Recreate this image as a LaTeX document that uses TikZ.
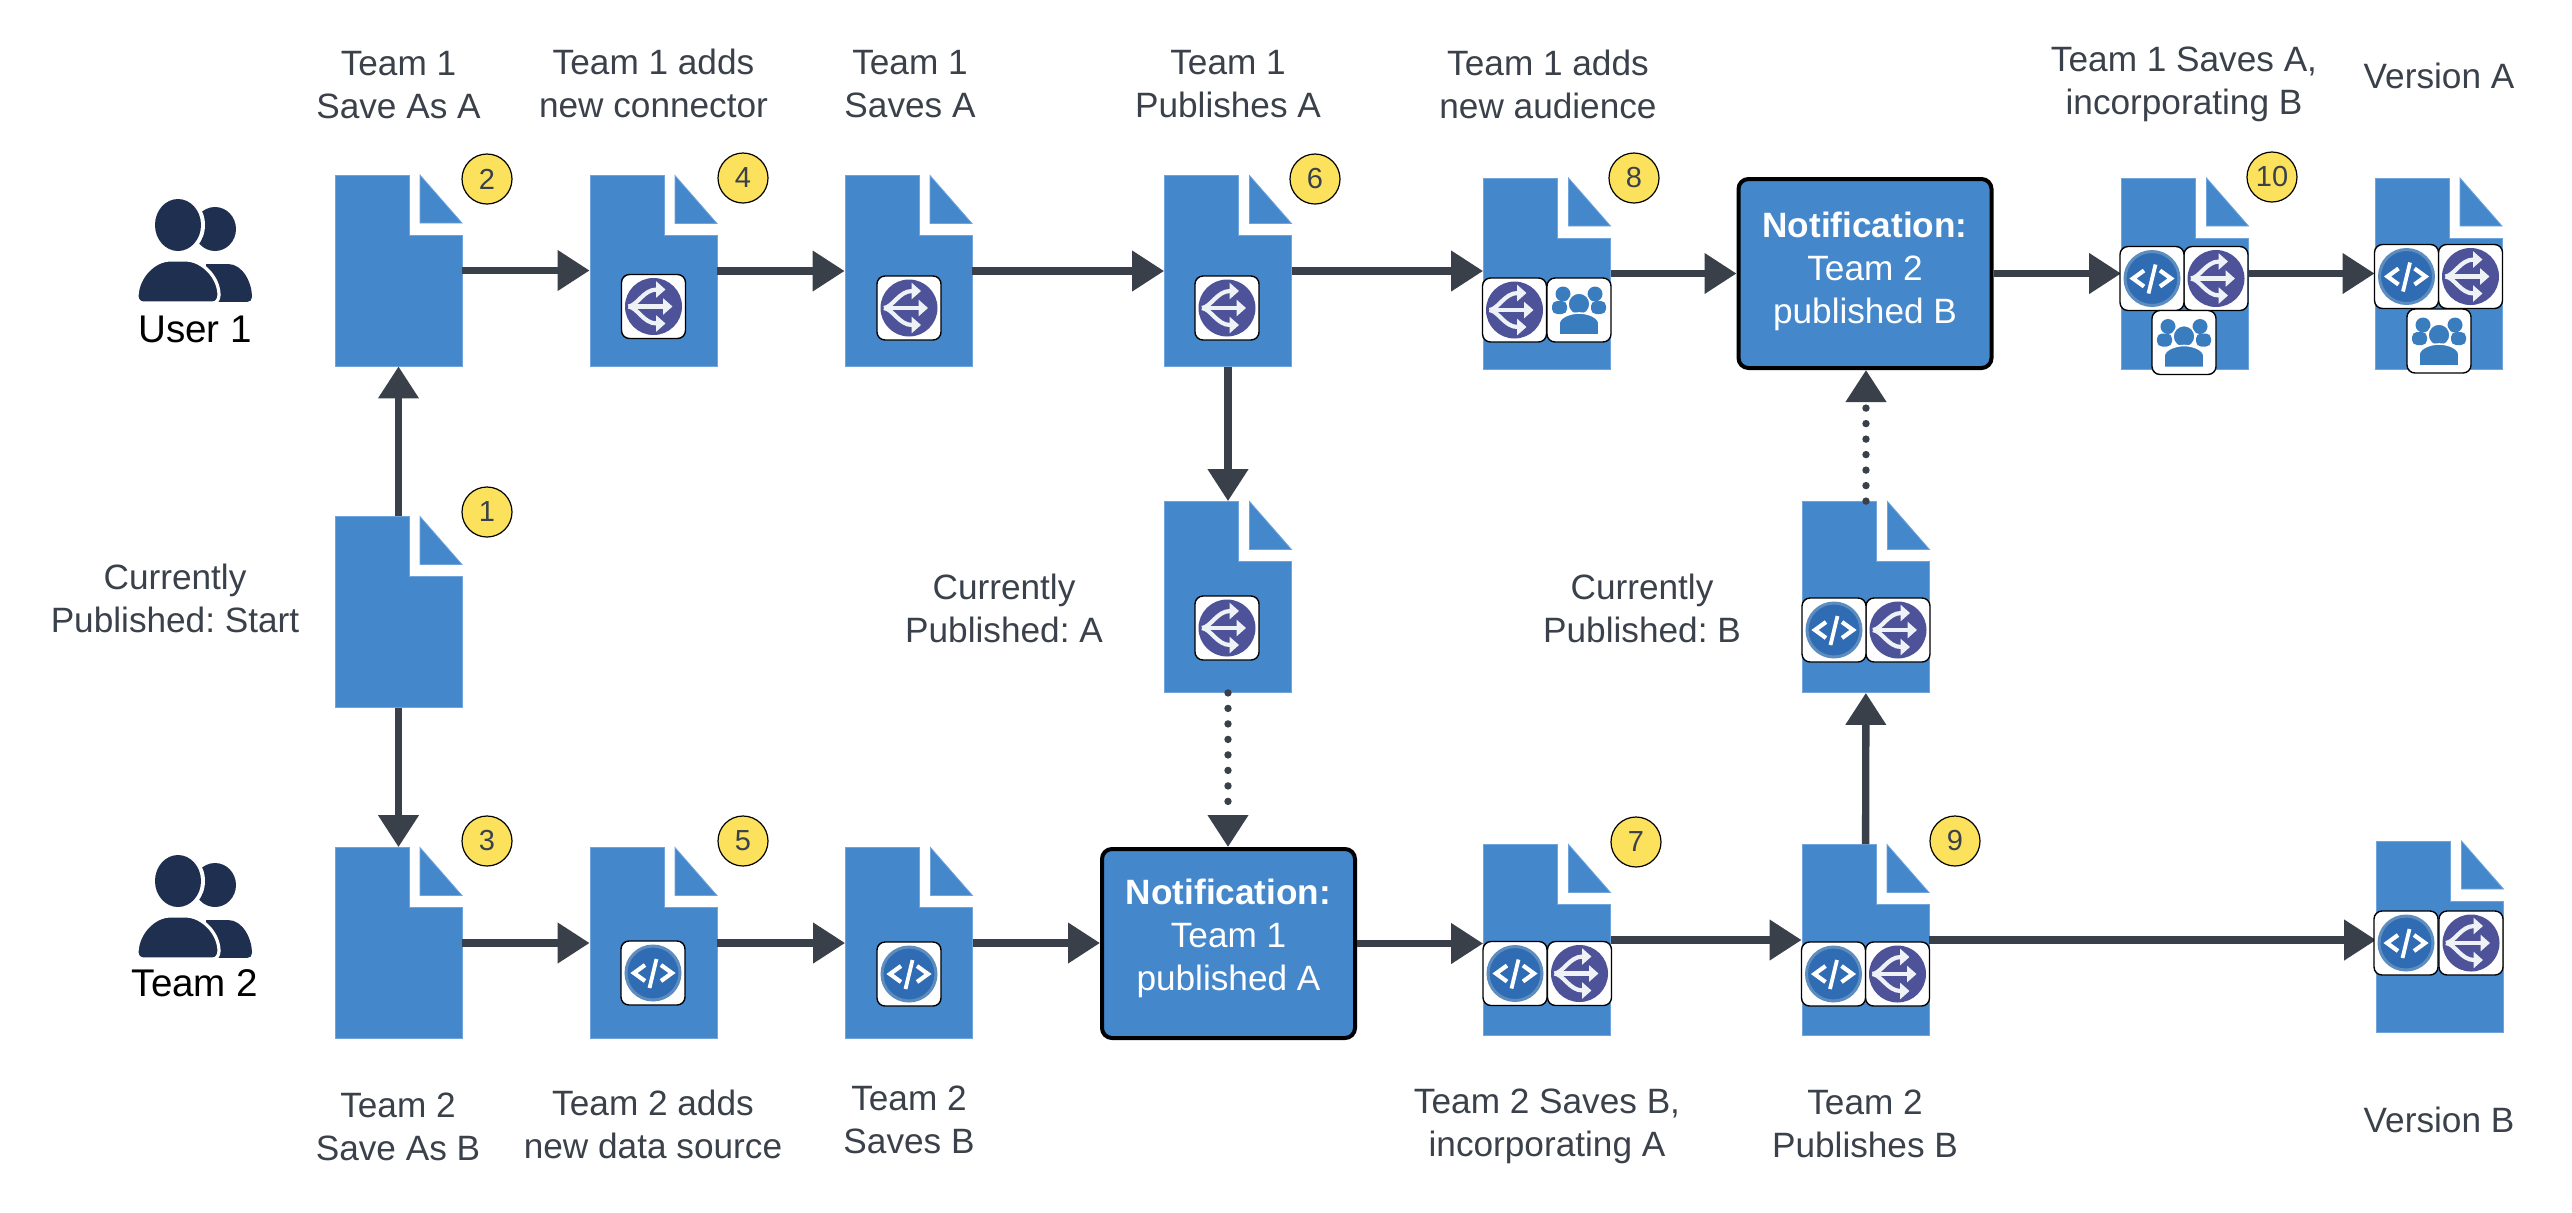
\documentclass[tikz,border=0pt]{standalone}
\usepackage{fontspec}
\setmainfont{Liberation Sans}
\frenchspacing
\usetikzlibrary{arrows.meta}
\definecolor{docblue}{HTML}{4587CB}
\definecolor{docedge}{HTML}{6FA5DC}
\definecolor{arrowgray}{HTML}{3A4049}
\definecolor{textgray}{HTML}{3A414A}
\definecolor{badgeyellow}{HTML}{FBE15C}
\definecolor{navy}{HTML}{1F2F4F}
\definecolor{connpurple}{HTML}{4D5299}
\definecolor{codeblue}{HTML}{2F6CB3}
\definecolor{codering}{HTML}{5D8DBF}
\definecolor{crowdblue}{HTML}{3A7DBF}
\definecolor{arrowwhite}{HTML}{EEF2F7}
\tikzset{
  x=.5pt, y=-.5pt,
  lbl/.style={font=\fontsize{17.6}{21.5}\selectfont, text=textgray, align=center, inner sep=0},
  userlbl/.style={lbl, text=black, font=\fontsize{19.3}{23}\selectfont},
  docbox/.style={minimum width=63.5pt, minimum height=95.5pt, inner sep=0},
  notebox/.style={minimum width=126.5pt, minimum height=94.5pt, inner sep=0, rounded corners=5pt, fill=docblue, draw=black, line width=2pt},
  notetext/.style={font=\fontsize{17.6}{21.5}\selectfont, text=white, align=center, inner sep=0},
  badge/.style={circle, minimum size=25pt, inner sep=0, fill=badgeyellow, draw=black, line width=.6pt, text=textgray, font=\fontsize{14.5}{16}\selectfont},
  iconbox/.style={minimum size=32pt, inner sep=0, rounded corners=4pt, fill=white, draw=black, line width=.7pt},
  flowline/.style={draw=arrowgray, line width=3.7pt, -{Triangle[length=16pt,width=19.5pt]}},
  dotline/.style={flowline, line cap=round, dash pattern=on 0pt off 7.75pt},
  docshape/.pic={
    \fill[docblue, draw=docedge, line width=.4pt] (-63.5,-95.5) -- (10.5,-95.5) -- (10.5,-35.5) -- (63.5,-35.5) -- (63.5,95.5) -- (-63.5,95.5) -- cycle;
    \fill[docblue, draw=docedge, line width=.4pt] (21.5,-95.5) -- (21.5,-47.5) -- (63.5,-47.5) -- cycle;
  },
  connicon/.pic={
    \fill[connpurple] (0,0) circle[radius=28.5];
    \begin{scope}[draw=arrowwhite, line width=2.1pt, -{Triangle[length=4.7pt,width=8pt]}]
      \draw (-25,0) -- (19,0);
      \draw (-25,0) .. controls (-16,-1) and (-10,-17) .. (12,-17);
      \draw (-25,0) .. controls (-16,1) and (-10,17) .. (12,17);
    \end{scope}
  },
  codeicon/.pic={
    \fill[codeblue, draw=codering, line width=1.5pt] (0,0) circle[radius=27];
    \draw[white, line width=2.1pt] (-8,-8) -- (-19,0) -- (-8,8);
    \draw[white, line width=2.1pt] (8,-8) -- (19,0) -- (8,8);
    \draw[white, line width=1.9pt] (3.5,-14) -- (-3.5,15);
  },
  crowdicon/.pic={
    \fill[crowdblue] (-16,-16) circle[radius=7.5] (16,-16) circle[radius=7.5];
    \fill[crowdblue, rounded corners=2.5pt] (-27,-9) rectangle (-12,4);
    \fill[crowdblue, rounded corners=2.5pt] (12,-9) rectangle (27,4);
    \fill[crowdblue, draw=white, line width=.8pt] (0,-6) circle[radius=11];
    \fill[crowdblue, draw=white, line width=.8pt] (-20,25) -- (-20,14) .. controls (-20,7) and (-9,3) .. (0,3) .. controls (9,3) and (20,7) .. (20,14) -- (20,25) -- cycle;
  },
  userpair/.pic={
    \fill[navy] (37,4) ellipse[x radius=21, y radius=22];
    \fill[white] (0,0) ellipse[x radius=27, y radius=30];
    \fill[navy] (0,0) ellipse[x radius=23, y radius=26];
    \fill[navy] (28,39) -- (50,39) .. controls (65,39) and (74,58) .. (74,72) .. controls (74,75) and (72,77) .. (69,77) -- (28,77) -- cycle;
    \fill[navy, draw=white, line width=1.6pt] (-35,78) .. controls (-38,78) and (-41,75) .. (-41,72) .. controls (-41,52) and (-24,35) .. (-8,35) -- (8,35) .. controls (24,35) and (41,52) .. (41,70) .. controls (41,75) and (38,78) .. (35,78) -- cycle;
    \draw[white, line width=2pt] (-45,78.5) -- (80,78.5);
  }
}
\begin{document}
\begin{tikzpicture}
\useasboundingbox (0,0) rectangle (2572,1212);
% documents
\foreach \nm/\cx/\cy in {docsaveas/398.5/270.5, docconn/653.5/271, docsavea/908.5/271, docpuba/1228/271, docaud/1547/273.5, docinca/2185/273.5, verA/2438.5/273.5,
  docstart/398.5/612, doccura/1228/597, doccurb/1866/597,
  docsavesb/398.5/943, docdata/653.5/943, docsaveb/909/943, docincb/1547/940, docpubb/1865.5/940, verB/2440/936.5}{
  \node[docbox] (\nm) at (\cx,\cy) {};
  \pic at (\nm) {docshape};
}
% notifications
\node[notebox, label={[notetext, yshift=1.3pt]center:\textbf{Notification:}\\Team 2\\published B}] (noteB) at (1865,273.5) {};
\node[notebox, label={[notetext, yshift=2.5pt]center:\textbf{Notification:}\\Team 1\\published A}] (noteA) at (1228.5,943.5) {};
% connectors
\foreach \a/\b in {docsaveas/docconn, docconn/docsavea, docsavea/docpuba, docpuba/docaud, docaud/noteB, noteB/docinca, docinca/verA,
  docsavesb/docdata, docdata/docsaveb, docsaveb/noteA, noteA/docincb, docincb/docpubb, docpubb/verB}
  \draw[flowline] (\a.east) -- (\a.east -| \b.west);
\draw[flowline] (docstart) -- (docsaveas);
\draw[flowline] (docstart) -- (docsavesb);
\draw[flowline] (docpuba) -- (doccura);
\draw[flowline] (docpubb) -- (doccurb);
\draw[dotline] (doccura.south) -- (doccura.south |- noteA.north);
\draw[dotline] (doccurb.north) -- (doccurb.north |- noteB.south);
% small icons
\foreach \nm/\cx/\cy in {c4/653.5/306.5, c4b/909/308, c6/1227/308, c6b/1227/628, c8/1514.5/310, c10/2216/278.5, cA/2470.5/276.5, c7/1579.5/973.5, c9/1897.5/974, c9b/1898/630, cB/2471/943}{
  \node[iconbox] (\nm) at (\cx,\cy) {};
  \pic at (\nm) {connicon};
}
\foreach \nm/\cx/\cy in {k5/653/973, k5b/909/974, k7/1515/973.5, k9/1833.5/974, k9b/1834/630, kB/2406/943, k10/2152/278.5, kA/2406.5/276.5}{
  \node[iconbox] (\nm) at (\cx,\cy) {};
  \pic at (\nm) {codeicon};
}
\foreach \nm/\cx/\cy in {p8/1579/310, p10/2184/342.5, pA/2439/341}{
  \node[iconbox] (\nm) at (\cx,\cy) {};
  \pic at (\nm) {crowdicon};
}
% step numbers
\foreach \nm/\cx/\cy in {1/487/512, 2/487/179, 3/487/841, 4/743/178, 5/743/841, 6/1315/179, 7/1636/842, 8/1634/178, 9/1955/841, 10/2272/177}
  \node[badge] (b\nm) at (\cx,\cy) {\nm};
% people
\pic at (178,225) {userpair};
\pic at (178,881) {userpair};
\node[userlbl] (user1) at (195,329) {User 1};
\node[userlbl] (team2) at (195,983) {Team 2};
% labels
\node[lbl] (l2) at (398.5,85) {Team 1\\Save As A};
\node[lbl] (l4) at (653.5,83) {Team 1 adds\\new connector};
\node[lbl] (l4b) at (910,84) {Team 1\\Saves A};
\node[lbl] (l6) at (1228,84) {Team 1\\Publishes A};
\node[lbl] (l8) at (1548,84) {Team 1 adds\\new audience};
\node[lbl] (l10) at (2184,84) {Team 1 Saves A,\\incorporating B};
\node[lbl] (lA) at (2439,76) {Version A};
\node[lbl] (l1) at (175,598) {Currently\\Published: Start};
\node[lbl] (lcurA) at (1004,608) {Currently\\Published: A};
\node[lbl] (lcurB) at (1642,608) {Currently\\Published: B};
\node[lbl] (l3) at (398,1127) {Team 2\\Save As B};
\node[lbl] (l5) at (653,1124) {Team 2 adds\\new data source};
\node[lbl] (l5b) at (909,1120) {Team 2\\Saves B};
\node[lbl] (l7) at (1547,1126) {Team 2 Saves B,\\incorporating A};
\node[lbl] (l9) at (1865,1124) {Team 2\\Publishes B};
\node[lbl] (lB) at (2439,1120) {Version B};
\end{tikzpicture}
\end{document}
